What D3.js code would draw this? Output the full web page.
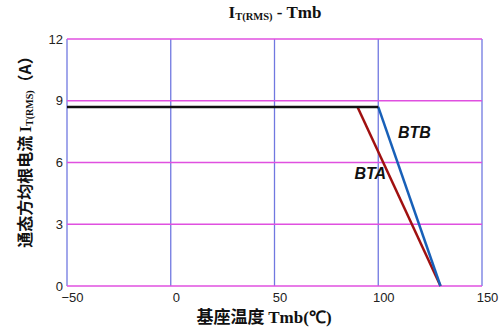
<!DOCTYPE html>
<html>
<head>
<meta charset="utf-8">
<script src="https://cdn.jsdelivr.net/npm/d3@7"></script>
<style>
  html, body { margin: 0; padding: 0; background: #fff; }
  svg { display: block; }
</style>
</head>
<body>
<svg id="chart" width="499" height="332"></svg>
<script>
// Axis ticks
const xTicks = [-50, 0, 50, 100, 150];
const yTicks = [0, 3, 6, 9, 12];

// Derating curves: on-state RMS current vs. mounting-base temperature
const btaTemp = [90, 130];
const btaCurrent = [8.7, 0];
const btbTemp = [100, 130];
const btbCurrent = [8.7, 0];
const flatTemp = [-50, 100];
const flatCurrent = [8.7, 8.7];

const svg = d3.select("#chart");
const margin = { left: 67, right: 17, top: 39, bottom: 46 };
const W = 499, H = 332;

const x = d3.scaleLinear().domain([-50, 150]).range([margin.left, W - margin.right]);
const y = d3.scaleLinear().domain([0, 12]).range([H - margin.bottom, margin.top]);

// Grid: blue verticals, magenta horizontals
svg.append("g").selectAll("line").data(xTicks).join("line")
  .attr("x1", d => x(d)).attr("x2", d => x(d))
  .attr("y1", y(0)).attr("y2", y(12))
  .attr("stroke", "#7078e0").attr("stroke-width", 1.3);

svg.append("g").selectAll("line").data(yTicks).join("line")
  .attr("x1", x(-50)).attr("x2", x(150))
  .attr("y1", d => y(d)).attr("y2", d => y(d))
  .attr("stroke", "#e050e0").attr("stroke-width", 1.3);

// Tick labels
const yAxis = svg.append("g").attr("transform", `translate(${x(-50)},0)`)
  .call(d3.axisLeft(y).tickValues(yTicks).tickSize(0).tickPadding(4));
const xAxis = svg.append("g").attr("transform", `translate(0,${y(0)})`)
  .call(d3.axisBottom(x).tickValues(xTicks).tickSize(0).tickPadding(7)
    .tickFormat(d => d < 0 ? "\u2212" + Math.abs(d) : d));
xAxis.selectAll("text").attr("dx", 5);
[xAxis, yAxis].forEach(g => {
  g.select(".domain").remove();
  g.selectAll("text").attr("font-family", "Liberation Sans, Arial, sans-serif")
    .attr("font-size", 13).attr("fill", "#222");
});

// Curves
const line = d3.line().x(d => x(d[0])).y(d => y(d[1]));
const pts = (t, c) => t.map((v, i) => [v, c[i]]);

svg.append("path").datum(pts(btaTemp, btaCurrent)).attr("d", line)
  .attr("fill", "none").attr("stroke", "#a01010").attr("stroke-width", 2.5);
svg.append("path").datum(pts(btbTemp, btbCurrent)).attr("d", line)
  .attr("fill", "none").attr("stroke", "#1860b8").attr("stroke-width", 2.5);
svg.append("path").datum(pts(flatTemp, flatCurrent)).attr("d", line)
  .attr("fill", "none").attr("stroke", "#111").attr("stroke-width", 2.5);

// Series labels
svg.append("text").attr("x", x(109.5)).attr("y", y(7.2))
  .attr("font-family", "Liberation Sans, Arial, sans-serif")
  .attr("font-weight", "bold").attr("font-style", "italic").attr("font-size", 16)
  .attr("fill", "#111").text("BTB");
svg.append("text").attr("x", x(88.5)).attr("y", y(5.2))
  .attr("font-family", "Liberation Sans, Arial, sans-serif")
  .attr("font-weight", "bold").attr("font-style", "italic").attr("font-size", 16)
  .attr("fill", "#111").text("BTA");

// Title
const title = svg.append("text").attr("x", 275).attr("y", 18).attr("text-anchor", "middle")
  .attr("font-family", "Liberation Serif, Times New Roman, serif")
  .attr("font-weight", "bold").attr("font-size", 17).attr("fill", "#111");
title.append("tspan").text("I");
title.append("tspan").attr("font-size", 10.5).attr("dy", 2).text("T(RMS)");
title.append("tspan").attr("dy", -2).text(" - Tmb");

// X axis title
const xt = svg.append("text").attr("x", 264).attr("y", 323).attr("text-anchor", "middle")
  .attr("font-weight", "bold").attr("font-size", 17).attr("fill", "#111");
xt.append("tspan").attr("font-family", "Noto Sans CJK SC, sans-serif").text("基座温度 ");
xt.append("tspan").attr("font-family", "Liberation Serif, serif").text("Tmb(℃)");

// Y axis title
const yt = svg.append("text").attr("transform", "translate(31,148) rotate(-90)")
  .attr("text-anchor", "middle").attr("font-weight", "bold").attr("font-size", 16).attr("fill", "#111");
yt.append("tspan").attr("font-family", "Noto Sans CJK SC, sans-serif").text("通态方均根电流 ");
yt.append("tspan").attr("font-family", "Liberation Serif, serif").text("I");
yt.append("tspan").attr("font-family", "Liberation Serif, serif").attr("font-size", 10).attr("dy", 2).text("T(RMS)");
yt.append("tspan").attr("font-family", "Noto Sans CJK SC, sans-serif").attr("dy", -2).text("（A）");
</script>
</body>
</html>
